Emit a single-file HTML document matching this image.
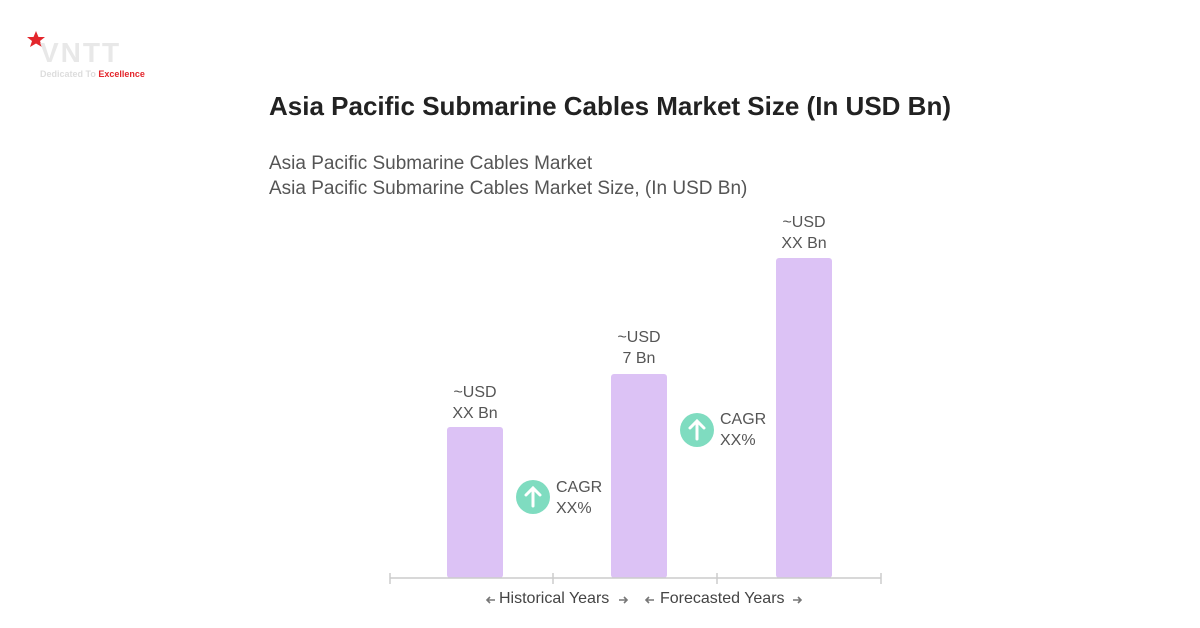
<!DOCTYPE html>
<html><head><meta charset="utf-8"><style>
body{margin:0;width:1200px;height:628px;background:#fff;overflow:hidden;font-family:"Liberation Sans",sans-serif;position:relative}
.t{position:absolute;white-space:nowrap}
</style></head><body>
<svg width="1200" height="628" style="position:absolute;left:0;top:0">
<polygon points="36,31 38.5,37 45,37 40,41 42,47 36,43.5 30,47 32,41 27,37 33.5,37" fill="#e3262c"/>
<text x="40" y="62" font-family="Liberation Sans" font-weight="bold" font-size="28" fill="#e8e8e8" letter-spacing="2">VNTT</text>
<text x="40" y="77" font-family="Liberation Sans" font-weight="bold" font-size="9" fill="#ddd">Dedicated To <tspan fill="#e3262c">Excellence</tspan></text>
<rect x="447" y="427" width="56" height="151" rx="3" fill="#dcc2f5"/>
<rect x="611" y="374" width="56" height="204" rx="3" fill="#dcc2f5"/>
<rect x="776" y="258" width="56" height="320" rx="3" fill="#dcc2f5"/>
<g stroke="#ccc" stroke-width="1.5">
<line x1="390" y1="578" x2="881" y2="578"/>
<line x1="390" y1="573" x2="390" y2="584"/>
<line x1="553" y1="573" x2="553" y2="584"/>
<line x1="717" y1="573" x2="717" y2="584"/>
<line x1="881" y1="573" x2="881" y2="584"/>
</g>
<circle cx="533" cy="497" r="17" fill="#7fdcc0"/>
<path d="M533 506V489M526 495l7-7 7 7" stroke="#fff" stroke-width="3" fill="none" stroke-linecap="round"/>
<circle cx="697" cy="430" r="17" fill="#7fdcc0"/>
<path d="M697 439V422M690 428l7-7 7 7" stroke="#fff" stroke-width="3" fill="none" stroke-linecap="round"/>
<g stroke="#777" stroke-width="1.6" fill="none">
<path d="M487 600h8M490 597l-3 3 3 3"/>
<path d="M619 600h8M624 597l3 3-3 3"/>
<path d="M646 600h8M649 597l-3 3 3 3"/>
<path d="M793 600h8M798 597l3 3-3 3"/>
</g>
</svg>
<div class="t" style="left:269px;top:91px;font-size:26px;font-weight:bold;color:#222">Asia Pacific Submarine Cables Market Size (In USD Bn)</div>
<div class="t" style="left:269px;top:151px;font-size:19px;color:#555;line-height:25px">Asia Pacific Submarine Cables Market<br>Asia Pacific Submarine Cables Market Size, (In USD Bn)</div>
<div class="t" style="left:425px;width:100px;text-align:center;top:382px;font-size:16px;color:#555;line-height:21px">~USD<br>XX Bn</div>
<div class="t" style="left:589px;width:100px;text-align:center;top:327px;font-size:16px;color:#555;line-height:21px">~USD<br>7 Bn</div>
<div class="t" style="left:754px;width:100px;text-align:center;top:212px;font-size:16px;color:#555;line-height:21px">~USD<br>XX Bn</div>
<div class="t" style="left:556px;top:477px;font-size:16px;color:#555;line-height:21px">CAGR<br>XX%</div>
<div class="t" style="left:720px;top:409px;font-size:16px;color:#555;line-height:21px">CAGR<br>XX%</div>
<div class="t" style="left:499px;top:590px;font-size:16px;color:#444">Historical Years</div>
<div class="t" style="left:660px;top:590px;font-size:16px;color:#444">Forecasted Years</div>
</body></html>
